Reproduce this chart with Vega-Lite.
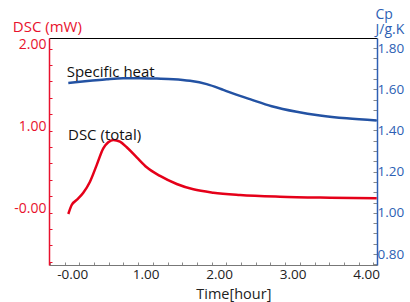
{
  "$schema": "https://vega.github.io/schema/vega-lite/v6.json",
  "width": 328,
  "height": 227,
  "autosize": {"type": "none"},
  "padding": {"left": 49, "top": 38, "right": 33, "bottom": 37},
  "config": {"view": {"stroke": null}, "font": "Open Sans"},
  "datasets": {
    "cp": [
      {"hour": 0.049, "cp": 1.631}, {"hour": 0.344, "cp": 1.641}, {"hour": 0.571, "cp": 1.649},
      {"hour": 0.797, "cp": 1.654}, {"hour": 1.024, "cp": 1.654}, {"hour": 1.252, "cp": 1.652},
      {"hour": 1.478, "cp": 1.649}, {"hour": 1.705, "cp": 1.641}, {"hour": 1.932, "cp": 1.625},
      {"hour": 2.158, "cp": 1.597}, {"hour": 2.249, "cp": 1.585}, {"hour": 2.385, "cp": 1.568},
      {"hour": 2.521, "cp": 1.552}, {"hour": 2.816, "cp": 1.518}, {"hour": 3.156, "cp": 1.491},
      {"hour": 3.473, "cp": 1.473}, {"hour": 3.837, "cp": 1.459}, {"hour": 4.245, "cp": 1.449}
    ],
    "dsc": [
      {"hour": 0.049, "dsc": -0.016}, {"hour": 0.095, "dsc": 0.094}, {"hour": 0.163, "dsc": 0.155},
      {"hour": 0.253, "dsc": 0.244}, {"hour": 0.344, "dsc": 0.378}, {"hour": 0.435, "dsc": 0.58},
      {"hour": 0.525, "dsc": 0.785}, {"hour": 0.593, "dsc": 0.858}, {"hour": 0.661, "dsc": 0.887},
      {"hour": 0.752, "dsc": 0.866}, {"hour": 0.844, "dsc": 0.798}, {"hour": 0.98, "dsc": 0.675},
      {"hour": 1.116, "dsc": 0.554}, {"hour": 1.297, "dsc": 0.448}, {"hour": 1.524, "dsc": 0.35},
      {"hour": 1.75, "dsc": 0.285}, {"hour": 2.022, "dsc": 0.244}, {"hour": 2.385, "dsc": 0.216},
      {"hour": 2.929, "dsc": 0.195}, {"hour": 3.61, "dsc": 0.183}, {"hour": 4.245, "dsc": 0.176}
    ]
  },
  "layer": [
    {
      "encoding": {
        "x": {
          "field": "hour", "type": "quantitative",
          "scale": {"domain": [-0.2136, 4.249], "nice": false, "zero": false},
          "axis": {"orient": "top", "labels": false, "ticks": false, "title": null, "domainColor": "#000000", "domainWidth": 1, "grid": false}
        },
        "y": {
          "field": "cp", "type": "quantitative",
          "scale": {"domain": [0.747, 1.849], "nice": false, "zero": false},
          "axis": {
            "orient": "right", "grid": false,
            "values": [0.75, 0.8, 0.85, 0.9, 0.95, 1.0, 1.05, 1.1, 1.15, 1.2, 1.25, 1.3, 1.35, 1.4, 1.45, 1.5, 1.55, 1.6, 1.65, 1.7, 1.75, 1.8],
            "labelExpr": "abs(datum.value*5 - round(datum.value*5)) < 0.01 ? format(datum.value, '.2f') : ''",
            "tickSize": -4, "tickColor": "#8a8a8a", "domainColor": "#2d5fb4", "domainWidth": 1.5,
            "labelColor": "#2d5fb4", "labelFontSize": 13.5, "labelPadding": 4, "labelOverlap": false, "labelBound": false, "labelFlush": false,
            "title": ["Cp", "J/g.K"], "titleAngle": 0, "titleAlign": "left", "titleBaseline": "alphabetic",
            "titleX": -2, "titleY": -19.5, "titleColor": "#2d5fb4", "titleFontSize": 14, "titleFontWeight": "normal", "titleLineHeight": 15
          }
        }
      },
      "layer": [
        {"data": {"name": "cp"}, "mark": {"type": "line", "color": "#2352a3", "strokeWidth": 2.5, "interpolate": "monotone"}},
        {
          "data": {"values": [{"hour": 0.027, "cp": 1.66, "label": "Specific heat"}]},
          "mark": {"type": "text", "align": "left", "baseline": "alphabetic", "fontSize": 15, "color": "#111111"},
          "encoding": {"text": {"field": "label"}}
        }
      ]
    },
    {
      "encoding": {
        "x": {
          "field": "hour", "type": "quantitative",
          "scale": {"domain": [-0.2136, 4.249], "nice": false, "zero": false},
          "axis": {
            "orient": "bottom", "grid": false,
            "values": [-0.2, 0, 0.2, 0.4, 0.6, 0.8, 1, 1.2, 1.4, 1.6, 1.8, 2, 2.2, 2.4, 2.6, 2.8, 3, 3.2, 3.4, 3.6, 3.8, 4, 4.2],
            "labelExpr": "abs(datum.value - round(datum.value)) < 0.01 ? (datum.value == 0 ? '-0.00' : format(datum.value, '.2f')) : ''",
            "labelOffset": 7.5, "tickSize": -3, "tickColor": "#8a8a8a", "domainColor": "#777777", "domainWidth": 1,
            "labelColor": "#222222", "labelFontSize": 13.5, "labelPadding": 5, "labelOverlap": false, "labelBound": false, "labelFlush": false,
            "title": "Time[hour]", "titleX": 184.3, "titleY": 33, "titleAlign": "center", "titleBaseline": "alphabetic",
            "titleFontSize": 14.5, "titleFontWeight": "normal", "titleColor": "#222222"
          }
        },
        "y": {
          "field": "dsc", "type": "quantitative",
          "scale": {"domain": [-0.638, 2.13], "nice": false, "zero": false},
          "axis": {
            "orient": "left", "grid": false,
            "values": [-0.6, -0.4, -0.2, 0, 0.2, 0.4, 0.6, 0.8, 1, 1.2, 1.4, 1.6, 1.8, 2],
            "labelExpr": "abs(datum.value - round(datum.value)) < 0.01 ? (datum.value == 0 ? '-0.00' : format(datum.value, '.2f')) : ''",
            "tickSize": -3, "tickColor": "#e8112d", "domainColor": "#e8112d", "domainWidth": 1.5,
            "labelColor": "#e8112d", "labelFontSize": 14, "labelBaseline": "alphabetic", "labelPadding": 6,
            "labelOverlap": false, "labelBound": false, "labelFlush": false,
            "title": "DSC (mW)", "titleAngle": 0, "titleAlign": "left", "titleBaseline": "alphabetic",
            "titleX": -36.7, "titleY": -6.3, "titleColor": "#e8112d", "titleFontSize": 15, "titleFontWeight": "normal"
          }
        }
      },
      "layer": [
        {"data": {"name": "dsc"}, "mark": {"type": "line", "color": "#e50019", "strokeWidth": 2.5, "interpolate": "monotone"}},
        {
          "data": {"values": [{"hour": 0.045, "dsc": 0.887, "label": "DSC (total)"}]},
          "mark": {"type": "text", "align": "left", "baseline": "alphabetic", "fontSize": 15, "color": "#111111"},
          "encoding": {"text": {"field": "label"}}
        }
      ]
    }
  ],
  "resolve": {"scale": {"y": "independent"}, "axis": {"x": "independent"}}
}
